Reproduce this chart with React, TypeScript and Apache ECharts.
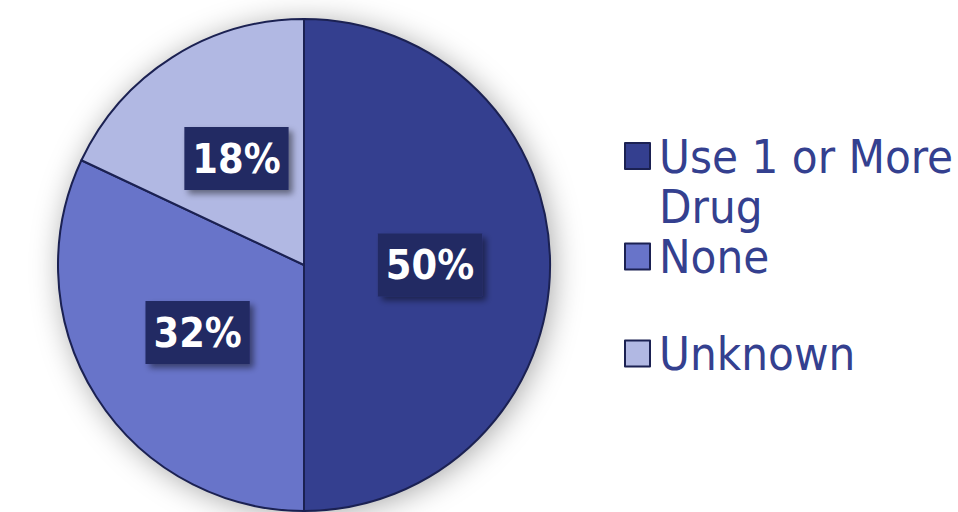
import React, { useEffect, useRef } from "react";
import * as echarts from "echarts";

const categories = ["Use 1 or More Drug", "None", "Unknown"];
const values = [50, 32, 18];
const colors = ["#343f8f", "#6874c9", "#b1b8e3"];
const legendTops = [81, 233, 330];
const legendLineHeights = [50, 44, 44];

export default function App() {
  const ref = useRef<HTMLDivElement>(null);
  useEffect(() => {
    document.body.style.margin = "0";
    const chart = echarts.init(ref.current!, null, { renderer: "svg" });
    const legendFont = "'DejaVu Sans Condensed', 'DejaVu Sans', sans-serif";
    const legends = categories.map((c, i) => ({
      data: [c],
      orient: "vertical",
      left: 624,
      top: legendTops[i],
      padding: 0,
      icon: "rect",
      itemWidth: 25,
      itemHeight: 26,
      itemGap: 0,
      selectedMode: false,
      itemStyle: { borderColor: "#1b2152", borderWidth: 2 },
      formatter: i === 0 ? () => " \nUse 1 or More\nDrug" : undefined,
      textStyle: {
        color: "#34408f",
        fontSize: 47,
        fontFamily: legendFont,
        lineHeight: legendLineHeights[i],
        padding: [0, 0, 0, 4],
      },
    }));
    chart.setOption({
      animation: false,
      backgroundColor: "#ffffff",
      legend: legends,
      series: [
        {
          type: "pie",
          silent: true,
          center: [304, 265],
          radius: 246,
          label: { show: false },
          labelLine: { show: false },
          itemStyle: {
            color: "#ffffff",
            shadowBlur: 30,
            shadowColor: "rgba(0,0,0,0.35)",
            shadowOffsetX: 3,
            shadowOffsetY: 3,
          },
          data: [{ name: "_bg", value: values.reduce((a, b) => a + b, 0) }],
        },
        {
          type: "pie",
          center: [304, 265],
          radius: 246,
          startAngle: 90,
          clockwise: true,
          itemStyle: { borderColor: "#1b2152", borderWidth: 2 },
          label: {
            show: true,
            position: "inside",
            formatter: "{d}%",
            color: "#ffffff",
            fontSize: 41,
            fontWeight: "bold",
            fontFamily: "'DejaVu Sans Condensed', 'DejaVu Sans', sans-serif",
            lineHeight: 52,
            backgroundColor: "#232a63",
            padding: [6, 8, 5, 8],
            shadowColor: "rgba(0,0,0,0.45)",
            shadowBlur: 6,
            shadowOffsetX: 4,
            shadowOffsetY: 4,
          },
          labelLine: { show: false },
          data: categories.map((c, i) => ({
            name: c,
            value: values[i],
            itemStyle: { color: colors[i] },
          })),
        },
      ],
    });
    return () => chart.dispose();
  }, []);
  return <div ref={ref} style={{ width: 958, height: 512 }} />;
}
